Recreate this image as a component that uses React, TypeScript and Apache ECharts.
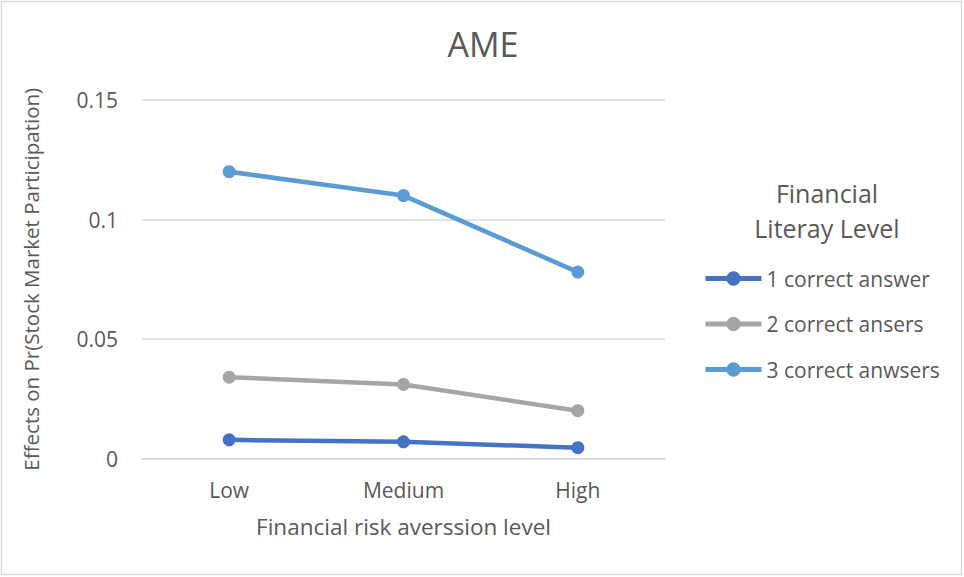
import React, { useEffect, useRef } from "react";
import * as echarts from "echarts";

const categories = ["Low", "Medium", "High"];
const seriesNames = ["1 correct answer", "2 correct ansers", "3 correct anwsers"];
const oneCorrect = [0.0078, 0.007, 0.0045];
const twoCorrect = [0.034, 0.031, 0.02];
const threeCorrect = [0.12, 0.11, 0.078];
const seriesColors = ["#4472C4", "#A5A5A5", "#5B9BD5"];
const yTicks = { min: 0, max: 0.15, interval: 0.05 };

const FONT = "Open Sans";
const TEXT = "#595959";

export default function App() {
  const ref = useRef<HTMLDivElement>(null);

  useEffect(() => {
    document.body.style.margin = "0";
    if (!ref.current) return;
    const chart = echarts.init(ref.current, undefined, { renderer: "svg" });
    const values = [oneCorrect, twoCorrect, threeCorrect];
    chart.setOption({
      animation: false,
      backgroundColor: "#fff",
      textStyle: { fontFamily: FONT, color: TEXT },
      title: [
        {
          text: "AME",
          left: 478,
          top: 22,
          textAlign: "center",
          textStyle: { fontFamily: FONT, fontSize: 34, fontWeight: "normal", color: TEXT },
        },
        {
          text: "Financial\nLiteray Level",
          left: 822,
          top: 170,
          textAlign: "center",
          textStyle: {
            fontFamily: FONT,
            fontSize: 25,
            fontWeight: "normal",
            color: TEXT,
            lineHeight: 35,
            align: "center",
          },
        },
      ],
      graphic: [
        {
          type: "rect",
          shape: { x: 1.5, y: 1.5, width: 960, height: 573 },
          style: { fill: "none", stroke: "#D9D9D9", lineWidth: 1.5 },
          silent: true,
        },
      ],
      legend: {
        orient: "vertical",
        left: 703,
        top: 268,
        padding: 0,
        itemWidth: 56,
        itemHeight: 18,
        itemGap: 24.5,
        lineStyle: { width: 5 },
        textStyle: { fontFamily: FONT, fontSize: 21, color: TEXT, padding: 0 },
        data: seriesNames,
      },
      grid: { left: 142, right: 299, top: 100, bottom: 118.5 },
      xAxis: {
        type: "category",
        data: categories,
        boundaryGap: true,
        name: "Financial risk averssion level",
        nameLocation: "middle",
        nameGap: 56,
        nameTextStyle: { fontFamily: FONT, fontSize: 22.5, color: TEXT },
        axisLine: { lineStyle: { color: "#D9D9D9", width: 1.5 } },
        axisTick: { show: false },
        axisLabel: { fontFamily: FONT, fontSize: 21, color: TEXT, margin: 21 },
      },
      yAxis: {
        type: "value",
        min: yTicks.min,
        max: yTicks.max,
        interval: yTicks.interval,
        name: "Effects on Pr(Stock Market Participation)",
        nameLocation: "middle",
        nameGap: 101,
        nameTextStyle: { fontFamily: FONT, fontSize: 20.5, color: TEXT },
        axisLine: { show: false },
        axisTick: { show: false },
        splitLine: { lineStyle: { color: "#D9D9D9", width: 1.5 } },
        axisLabel: { fontFamily: FONT, fontSize: 21, color: TEXT, margin: 24 },
      },
      series: seriesNames.map((name, i) => ({
        name,
        type: "line",
        data: values[i],
        color: seriesColors[i],
        symbol: "circle",
        symbolSize: 13,
        lineStyle: { width: 4.5, color: seriesColors[i] },
        itemStyle: { color: seriesColors[i] },
      })),
    });
    return () => chart.dispose();
  }, []);

  return <div ref={ref} style={{ width: 964, height: 577 }} />;
}
